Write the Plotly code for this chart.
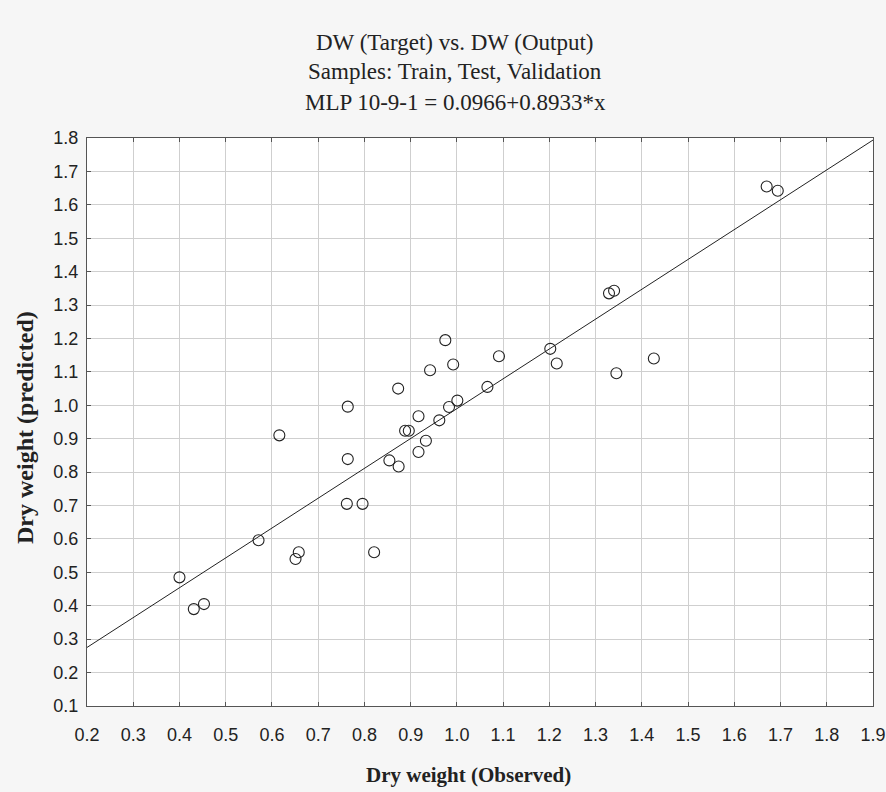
import plotly.graph_objects as go

# Observed (target) dry weight
observed = [0.400, 0.431, 0.453, 0.571, 0.616, 0.651, 0.658, 0.762, 0.764, 0.764,
            0.796, 0.821, 0.854, 0.874, 0.873, 0.888, 0.896, 0.917, 0.917, 0.933,
            0.942, 0.962, 0.975, 0.983, 0.992, 1.001, 1.066, 1.091, 1.202, 1.216,
            1.329, 1.340, 1.345, 1.426, 1.670, 1.694]
# Predicted (output) dry weight
predicted = [0.485, 0.390, 0.405, 0.596, 0.910, 0.540, 0.560, 0.705, 0.839, 0.996,
             0.705, 0.560, 0.835, 0.817, 1.050, 0.924, 0.924, 0.860, 0.967, 0.894,
             1.105, 0.955, 1.195, 0.995, 1.122, 1.014, 1.055, 1.147, 1.169, 1.125,
             1.335, 1.343, 1.096, 1.140, 1.655, 1.642]

intercept = 0.0966
slope = 0.8933
line_x = [0.2, 1.9]
line_y = [intercept + slope * v for v in line_x]

serif = "Liberation Serif, Times New Roman, serif"
sans = "Liberation Sans, Arial, sans-serif"

fig = go.Figure()
fig.add_trace(go.Scatter(x=line_x, y=line_y, mode="lines",
                         line=dict(color="#222222", width=1), showlegend=False,
                         hoverinfo="skip"))
fig.add_trace(go.Scatter(x=observed, y=predicted, mode="markers",
                         marker=dict(symbol="circle-open", size=11,
                                     color="#222222", line=dict(width=1.1)),
                         showlegend=False))

axis_common = dict(
    showgrid=True, gridcolor="#cfcfcf", gridwidth=1, automargin=False,
    zeroline=False, showline=True, linecolor="#555555", linewidth=1.2,
    mirror="ticks", ticks="inside", ticklen=4, tickcolor="#555555",
    tickfont=dict(family=sans, size=18, color="#222222"),
    tickformat=".1f", dtick=0.1,
)

fig.update_layout(
    width=886, height=792,
    margin=dict(l=87, r=13, t=138, b=86),
    paper_bgcolor="#f6f6f6", plot_bgcolor="#ffffff",
    xaxis=dict(range=[0.2, 1.9], tick0=0.2, ticklabelstandoff=12, **axis_common),
    yaxis=dict(range=[0.1, 1.8], tick0=0.1, ticklabelstandoff=4, **axis_common),
)

titles = [("DW (Target) vs. DW (Output)", 42),
          ("Samples: Train, Test, Validation", 71),
          ("MLP 10-9-1 = 0.0966+0.8933*x", 103)]
for txt, py in titles:
    fig.add_annotation(text=txt, xref="paper", yref="paper",
                       x=(455 - 87) / 786, y=(706 - py) / 568,
                       xanchor="center", yanchor="middle", showarrow=False,
                       font=dict(family=serif, size=23, color="#222222"))

fig.add_annotation(text="<b>Dry weight (Observed)</b>", xref="paper", yref="paper",
                   x=(468 - 87) / 786, y=(706 - 775) / 568,
                   xanchor="center", yanchor="middle", showarrow=False,
                   font=dict(family=serif, size=21, color="#222222"))
fig.add_annotation(text="<b>Dry weight (predicted)</b>", xref="paper", yref="paper",
                   x=(25 - 87) / 786, y=(706 - 428) / 568, textangle=-90,
                   xanchor="center", yanchor="middle", showarrow=False,
                   font=dict(family=serif, size=24, color="#222222"))

fig.write_html("out.html", config={"displayModeBar": False},
               post_script="document.body.style.margin='0';")
